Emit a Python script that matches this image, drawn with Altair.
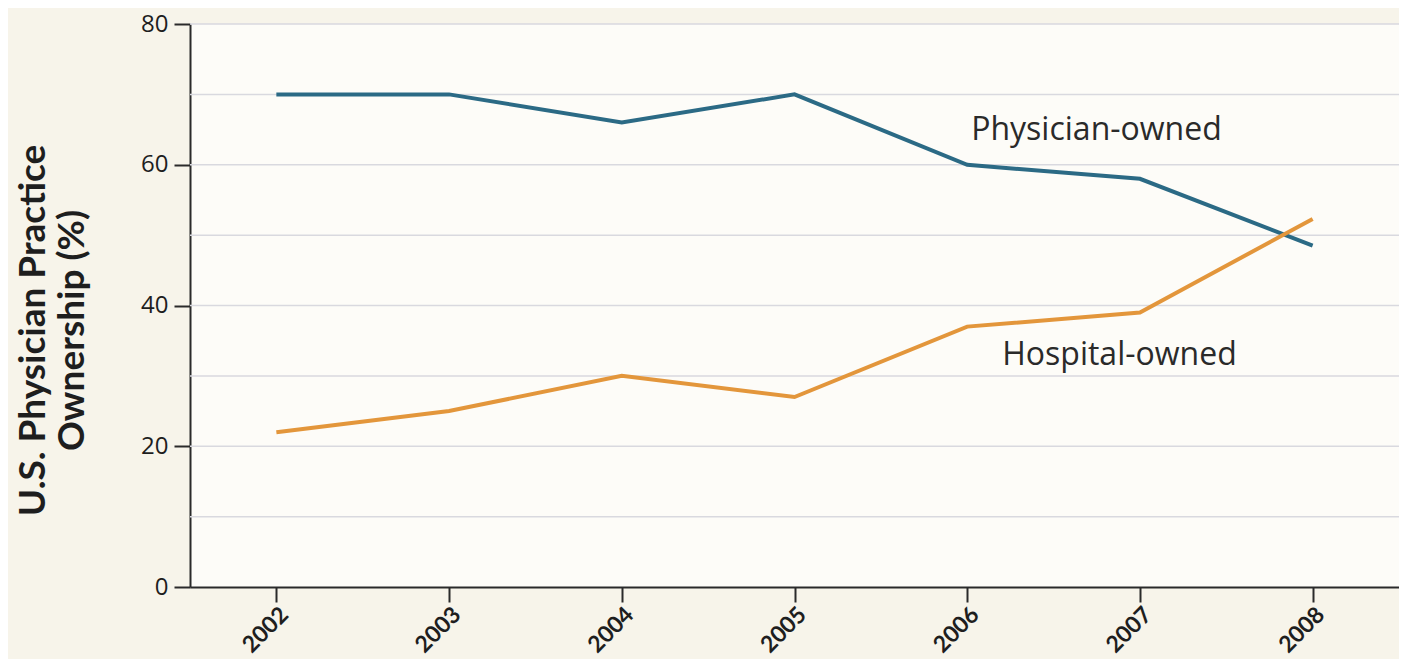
import altair as alt
import pandas as pd

years = ["2002", "2003", "2004", "2005", "2006", "2007", "2008"]
physician = [70, 70, 66, 70, 60, 58, 48.5]
hospital = [22, 25, 30, 27, 37, 39, 52.3]
series_names = ["Physician-owned", "Hospital-owned"]
series_colors = ["#2b6a85", "#e3963b"]
grid_values = [10, 20, 30, 40, 50, 60, 70, 80]
y_tick_values = [0, 20, 40, 60, 80]
label_years = ["2006", "2006"]
label_values = [65, 33]
label_dx = [4, 35]

rows = []
for y, v in zip(years, physician):
    rows.append({"year": y, "value": v, "series": series_names[0]})
for y, v in zip(years, hospital):
    rows.append({"year": y, "value": v, "series": series_names[1]})
df = pd.DataFrame(rows)

FONT = "Open Sans"
BFONT = "Lato"
xscale = alt.Scale(domain=years, padding=0.5)
yscale = alt.Scale(domain=[0, 80])

yaxis = alt.Axis(values=y_tick_values, title=["U.S. Physician Practice", "Ownership (%)"],
                 titleFont=BFONT, titleFontWeight="bold", titleFontSize=37,
                 titleColor="#1e1e1e", titleX=-157, titleY=306, titleAngle=-90,
                 titleAlign="center", titleBaseline="middle", titleLineHeight=39,
                 labelFont=FONT, labelFontSize=24, labelColor="#1e1e1e",
                 tickSize=16, tickWidth=2, tickColor="#2a2a2a", domainColor="#2a2a2a",
                 domainWidth=2, labelPadding=6, grid=False)

grid = alt.Chart(pd.DataFrame({"value": grid_values})).mark_rule(
    color="#d9d9df", strokeWidth=1.5
).encode(y=alt.Y("value:Q", scale=yscale, axis=yaxis))

lines = alt.Chart(df).mark_line(strokeWidth=4).encode(
    x=alt.X("year:O", scale=xscale, sort=years,
            axis=alt.Axis(title=None, labelAngle=-45, labelFont=BFONT, labelFontWeight="bold",
                          labelFontSize=23, labelColor="#1e1e1e", tickSize=15, tickWidth=2,
                          tickColor="#2a2a2a", domainColor="#2a2a2a", domainWidth=2,
                          labelPadding=1, grid=False)),
    y=alt.Y("value:Q", scale=yscale, axis=yaxis),
    color=alt.Color("series:N", scale=alt.Scale(domain=series_names, range=series_colors), legend=None),
)

ann_df = pd.DataFrame({"year": label_years, "value": label_values, "text": series_names})
texts = []
for i in range(len(series_names)):
    texts.append(
        alt.Chart(ann_df.iloc[[i]]).mark_text(
            align="left", baseline="middle", font=FONT, fontSize=32, color="#2a2a2a", dx=label_dx[i]
        ).encode(x=alt.X("year:O", scale=xscale, sort=years),
                 y=alt.Y("value:Q", scale=yscale, axis=yaxis), text="text:N")
    )

chart = alt.layer(grid, lines, *texts).properties(
    width=1209, height=563,
    background="#f7f4ea",
    autosize=alt.AutoSizeParams(type="none"),
    padding={"left": 182, "top": 16, "right": 0, "bottom": 72},
).configure_view(fill="#fdfcf8", stroke=None)

chart.save("out.html", embed_options={"renderer": "svg", "actions": False})
